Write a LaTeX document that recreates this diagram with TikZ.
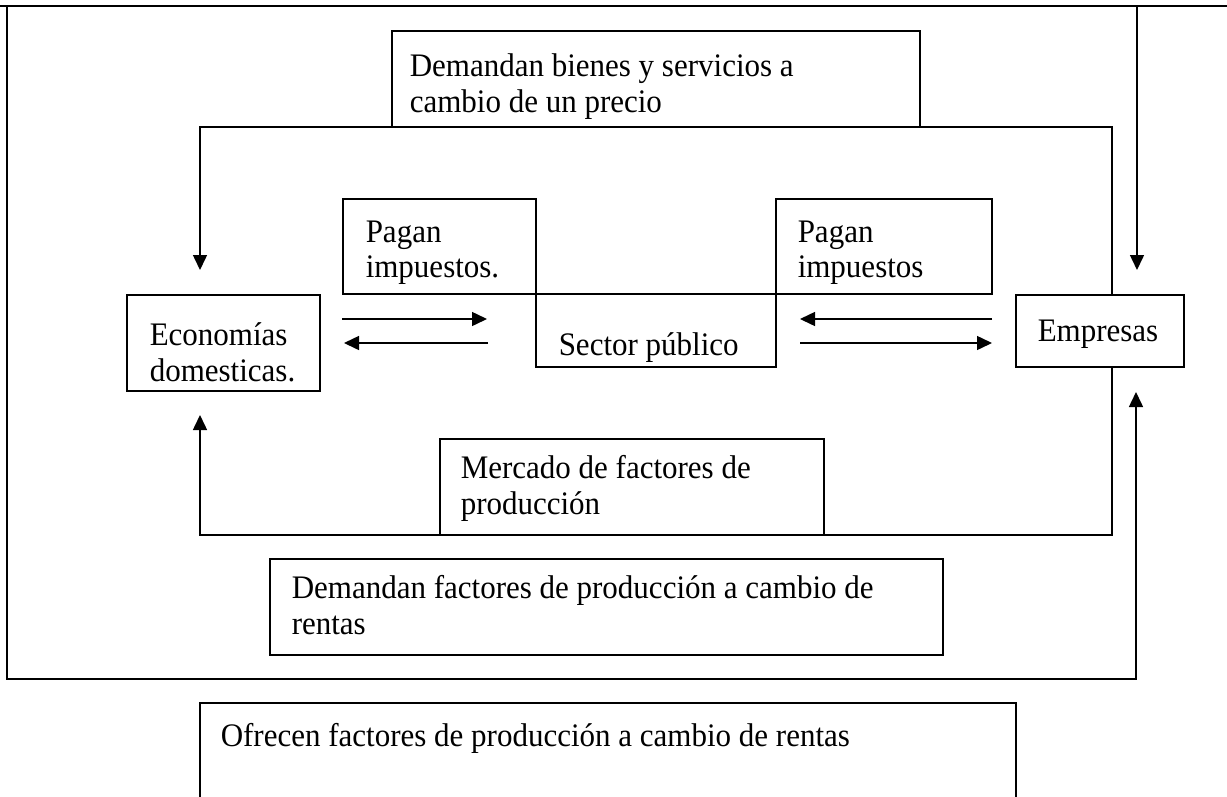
\documentclass[tikz,border=0pt]{standalone}
\usepackage{fontspec}
\setmainfont{Liberation Serif}
\usetikzlibrary{arrows.meta,calc}
\begin{document}
\begin{tikzpicture}[x=1pt,y=-1pt,line width=1.5pt,
  box/.style={draw,rectangle,inner sep=0pt,outer sep=0pt,anchor=north west},
  txt/.style={anchor=north west,inner sep=0pt,align=left,yscale=1.06,transform shape,font=\fontsize{31}{33.6}\selectfont},
  arr/.style={-{Triangle[length=15pt,width=14pt]}}]
\useasboundingbox (0,0) rectangle (1227,796);
% boxes
\node[box,minimum width=528pt,minimum height=96pt] (bienes) at (392,31) {};
\node[box,minimum width=193pt,minimum height=95pt] (pagan1) at (343,199) {};
\node[box,minimum width=216pt,minimum height=95pt] (pagan2) at (776,199) {};
\node[box,minimum width=193pt,minimum height=96pt] (econ) at (127,295) {};
\node[box,minimum width=240pt,minimum height=73pt] (sector) at (536,294) {};
\node[box,minimum width=168pt,minimum height=72pt] (empresas) at (1016,295) {};
\node[box,minimum width=384pt,minimum height=96pt] (mercado) at (440,439) {};
\node[box,minimum width=673pt,minimum height=96pt] (factores) at (270,559) {};
\node[box,minimum width=816pt,minimum height=140pt] (ofrecen) at (200,703) {};
% texts
\node[txt] (tbienes) at (409,53) {Demandan bienes y servicios a\\cambio de un precio};
\node[txt] (tpagan1) at (365,220) {Pagan\\impuestos.};
\node[txt] (tpagan2) at (797,220) {Pagan\\impuestos};
\node[txt] (tecon) at (149,322) {Economías\\domesticas.};
\node[txt] (tsector) at (558,332) {Sector público};
\node[txt] (tempresas) at (1037,319) {Empresas};
\node[txt] (tmercado) at (460,455) {Mercado de factores de\\producción};
\node[txt] (tfactores) at (291,575) {Demandan factores de producción a cambio de\\rentas};
\node[txt] (tofrecen) at (220,723) {Ofrecen factores de producción a cambio de rentas};
% outer frame
\coordinate (topl) at (0,6);
\coordinate (topr) at (1227,6);
\coordinate (framel) at (7,6);
\coordinate (frameb) at (1136,679);
\coordinate (empin) at ($(empresas.south)+(36,25)$);
\coordinate (empdown) at ($(empresas.north)+(37,-25)$);
\draw (topl) -- (topr);
\draw[arr] (framel) |- (frameb) -- (empin);
\draw[arr] (topl -| empdown) -- (empdown);
% goods loop
\coordinate (eup) at ($(empresas.north)+(12,0)$);
\coordinate (econin) at ($(econ.north)+(-23.5,-25)$);
\draw[arr] (eup) -- (eup |- bienes.south) -- (econin |- bienes.south) -- (econin);
% factors loop
\coordinate (edown) at ($(empresas.south)+(12,0)$);
\coordinate (econup) at ($(econ.south)+(-23.5,24)$);
\draw[arr] (edown) -- (edown |- mercado.south) -- (econup |- mercado.south) -- (econup);
% tax arrows
\coordinate (l1a) at (342,319); \coordinate (l1b) at (487,319);
\coordinate (l2a) at (488,343); \coordinate (l2b) at (344,343);
\coordinate (r1a) at (992,319); \coordinate (r1b) at (800,319);
\coordinate (r2a) at (800,343); \coordinate (r2b) at (992,343);
\draw[arr] (l1a) -- (l1b);
\draw[arr] (l2a) -- (l2b);
\draw[arr] (r1a) -- (r1b);
\draw[arr] (r2a) -- (r2b);
\end{tikzpicture}
\end{document}
